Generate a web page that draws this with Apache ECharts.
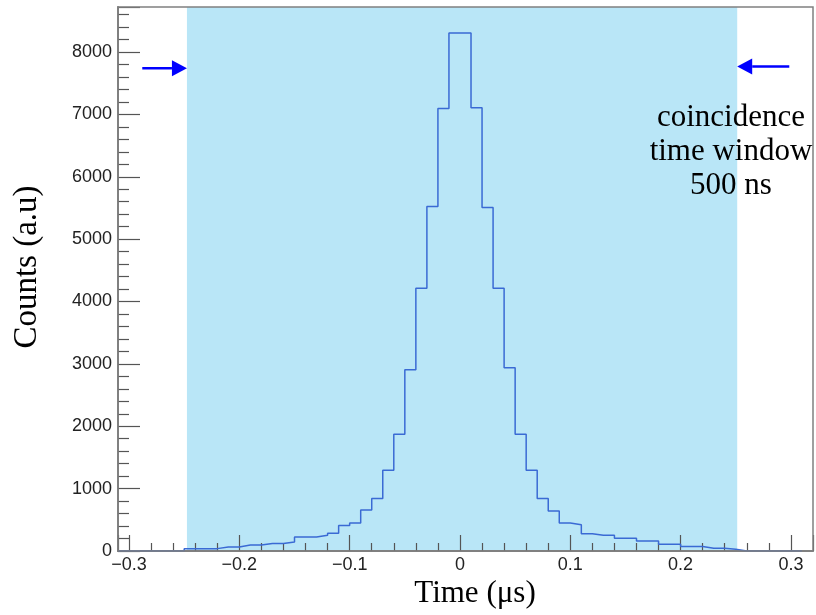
<!DOCTYPE html>
<html><head><meta charset="utf-8">
<script src="https://cdn.jsdelivr.net/npm/echarts@6/dist/echarts.min.js"></script>
<style>html,body{margin:0;padding:0;background:#fff}#c{width:816px;height:615px}</style>
</head><body><div id="c"></div>
<script>
// ---- data ----
const binStart = -0.31;
const binWidth = 0.01;
const counts = [
  0, 0, 0, 0, 0, 0,
  38, 38, 38, 64, 64, 96, 96, 119, 119, 145,
  225, 225, 252, 285, 410, 449, 658, 841, 1295, 1873,
  2905, 4212, 5522, 7095, 8305,
  8305, 7106, 5506, 4212, 2937, 1873, 1295, 841, 642, 449,
  420, 278, 252, 252, 204, 204, 161, 161, 108, 108,
  71, 71, 43, 43, 27,
  0, 0, 0, 0, 0, 0
];
const xRange = [-0.31, 0.32];
const yRange = [0, 8722];
const yInterval = 1000;
const windowEdges = [-0.2475, 0.2513];
const leftArrow = { from: -0.288, to: -0.2475, y: 7740 };
const rightArrow = { from: 0.2985, to: 0.2513, y: 7770 };
const xTitle = 'Time (\u03bcs)';
const yTitle = 'Counts (a.u)';
const noteLines = ['coincidence', 'time window', '500 ns'];

// ---- build ----
const histPts = counts.map((v, i) => [+(binStart + i * binWidth).toFixed(2), v]);
histPts.push([+(binStart + counts.length * binWidth).toFixed(2), counts[counts.length - 1]]);

const chart = echarts.init(document.getElementById('c'), null, { renderer: 'canvas' });
const tickStyle = { color: '#555', width: 1.2 };
const labelFont = { fontSize: 18, fontFamily: '"Liberation Sans", Arial, sans-serif', color: '#222' };
const fmt = v => (v === 0 ? '0' : String(+v.toFixed(4)).replace('-', '\u2212'));

chart.setOption({
  animation: false,
  grid: { left: 118, right: 3, top: 7, bottom: 64, show: true, borderColor: '#808080', borderWidth: 1.5, z: 4, backgroundColor: 'transparent' },
  xAxis: {
    type: 'value', min: xRange[0], max: xRange[1], splitNumber: 5, z: 2,
    axisLine: { show: true, onZero: false, lineStyle: { color: '#808080', width: 2 } },
    axisTick: { show: true, inside: true, length: 16, lineStyle: tickStyle },
    minorTick: { show: true, splitNumber: 5, length: 8, lineStyle: tickStyle },
    splitLine: { show: false },
    axisLabel: Object.assign({ margin: 5, showMinLabel: false, showMaxLabel: false, formatter: fmt }, labelFont)
  },
  yAxis: {
    type: 'value', min: yRange[0], max: yRange[1], interval: yInterval, z: 2,
    axisLine: { show: true, onZero: false, lineStyle: { color: '#808080', width: 2 } },
    axisTick: { show: true, inside: true, length: 22, lineStyle: tickStyle },
    minorTick: { show: true, splitNumber: 5, length: 11, lineStyle: tickStyle },
    splitLine: { show: false },
    axisLabel: Object.assign({ margin: 6, showMaxLabel: false, formatter: fmt }, labelFont)
  },
  series: [
    {
      type: 'line', data: [], z: 1, silent: true,
      markArea: { silent: true, itemStyle: { color: '#b9e6f7', opacity: 1 },
        data: [[{ xAxis: windowEdges[0] }, { xAxis: windowEdges[1] }]] }
    },
    {
      type: 'line', step: 'end', data: histPts, symbol: 'none', z: 3,
      lineStyle: { color: '#3a6ad4', width: 1.5 }
    }
  ]
});

function arrow(a) {
  const p0 = chart.convertToPixel({ gridIndex: 0 }, [a.from, a.y]);
  const p1 = chart.convertToPixel({ gridIndex: 0 }, [a.to, a.y]);
  const dir = Math.sign(p1[0] - p0[0]);
  const hl = 15, hw = 8;
  const base = p1[0] - dir * hl;
  return [
    { type: 'line', shape: { x1: p0[0], y1: p0[1], x2: base, y2: p1[1] }, style: { stroke: '#0000ff', lineWidth: 2.5 }, z: 10 },
    { type: 'polygon', shape: { points: [[p1[0], p1[1]], [base, p1[1] - hw], [base, p1[1] + hw]] }, style: { fill: '#0000ff' }, z: 10 }
  ];
}

const serif = '"Liberation Serif", "Times New Roman", serif';
chart.setOption({
  graphic: [
    ...arrow(leftArrow), ...arrow(rightArrow),
    { type: 'text', x: 475, y: 578, z: 10,
      style: { text: xTitle, font: '31px ' + serif, fill: '#000', align: 'center', verticalAlign: 'top', textAlign: 'center', textVerticalAlign: 'top' } },
    { type: 'text', x: 27, y: 267, rotation: Math.PI / 2, z: 10,
      style: { text: yTitle, font: '33px ' + serif, fill: '#000', align: 'center', verticalAlign: 'middle', textAlign: 'center', textVerticalAlign: 'middle' } },
    { type: 'text', x: 731, y: 101, z: 10,
      style: { text: noteLines.join('\n'), font: '31px ' + serif, lineHeight: 34, fill: '#000', align: 'center', verticalAlign: 'top', textAlign: 'center', textVerticalAlign: 'top' } }
  ]
});
</script></body></html>
